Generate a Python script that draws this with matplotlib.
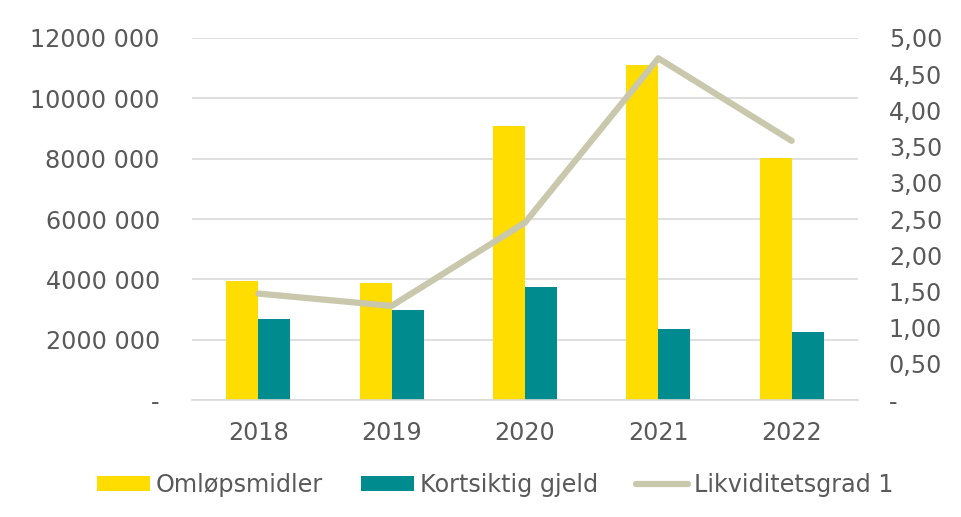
import matplotlib
matplotlib.use("Agg")
import matplotlib.pyplot as plt
import numpy as np

years = ["2018", "2019", "2020", "2021", "2022"]
omlopsmidler = [3945000, 3880000, 9090000, 11120000, 8030000]
kortsiktig_gjeld = [2675000, 2980000, 3735000, 2340000, 2240000]
likviditetsgrad = [1.47, 1.30, 2.45, 4.72, 3.58]

left_ticks = [0, 2000000, 4000000, 6000000, 8000000, 10000000, 12000000]
left_labels = ["-", "2000 000", "4000 000", "6000 000", "8000 000", "10000 000", "12000 000"]
right_ticks = [0, 0.5, 1.0, 1.5, 2.0, 2.5, 3.0, 3.5, 4.0, 4.5, 5.0]
right_labels = ["-", "0,50", "1,00", "1,50", "2,00", "2,50", "3,00", "3,50", "4,00", "4,50", "5,00"]

plt.rcParams['font.family'] = ['DejaVu Sans']
txt = "#595959"
fs = 17.2

fig = plt.figure(figsize=(9.62, 5.17), dpi=100)
ax = fig.add_axes([0.1993, 0.2263, 0.8922 - 0.1993, 0.9265 - 0.2263])
x = np.arange(len(years))
w = 0.24
b1 = ax.bar(x - w / 2, omlopsmidler, w, color="#FFDD00", label="Omløpsmidler", zorder=2)
b2 = ax.bar(x + w / 2, kortsiktig_gjeld, w, color="#008B8F", label="Kortsiktig gjeld", zorder=2)
ax.set_xlim(-0.5, len(years) - 0.5)
ax.set_ylim(0, 12000000)
ax.set_yticks(left_ticks)
ax.set_yticklabels(left_labels)
ax.set_xticks(x)
ax.set_xticklabels(years)
ax.grid(axis="y", color="#D9D9D9", linewidth=1.2, zorder=0)
ax.set_axisbelow(True)
for s in ["top", "left", "right"]:
    ax.spines[s].set_visible(False)
ax.spines["bottom"].set_color("#D9D9D9")
ax.spines["bottom"].set_linewidth(1.2)
ax.tick_params(axis="both", length=0, labelsize=fs, colors=txt)
ax.tick_params(axis="y", pad=23)
ax.tick_params(axis="x", pad=15)

ax2 = ax.twinx()
l1, = ax2.plot(x, likviditetsgrad, color="#C9C7AC", linewidth=4.5, solid_capstyle="round",
               solid_joinstyle="round", label="Likviditetsgrad 1", zorder=3)
ax2.set_ylim(0, 5)
ax2.set_yticks(right_ticks)
ax2.set_yticklabels(right_labels)
for s in ["top", "left", "right", "bottom"]:
    ax2.spines[s].set_visible(False)
ax2.tick_params(axis="y", length=0, labelsize=fs, colors=txt, pad=22)

leg = fig.legend(handles=[b1, b2, l1], loc="center", bbox_to_anchor=(0.515, 0.062), ncol=3,
                 frameon=False, fontsize=fs, handlelength=2.2, handleheight=0.6,
                 handletextpad=0.25, columnspacing=1.6)
for t in leg.get_texts():
    t.set_color(txt)

fig.savefig("out.png", dpi=100)
